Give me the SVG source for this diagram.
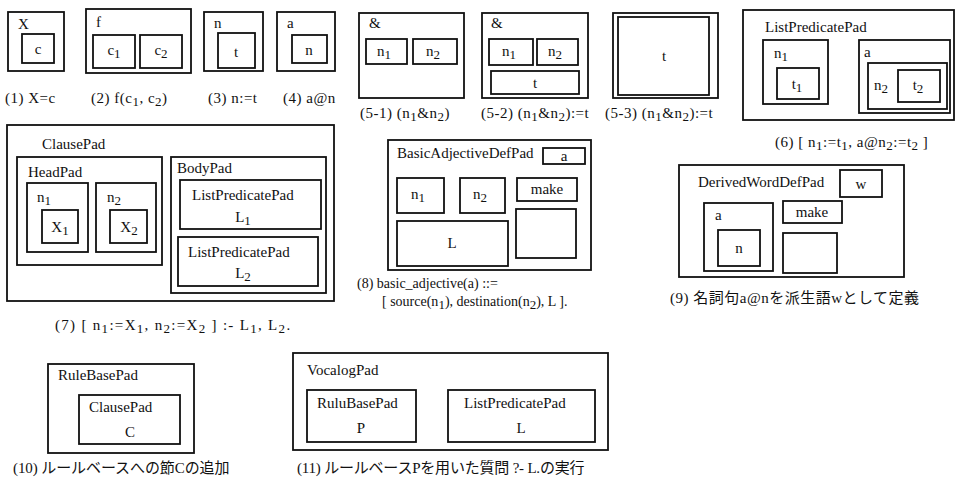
<svg xmlns="http://www.w3.org/2000/svg" width="959" height="483" viewBox="0 0 959 483">
<style>
.b{fill:none;stroke:#111;stroke-width:1.8}
text{font-family:"Liberation Serif",serif;font-size:15px;fill:#111}
.j{font-family:"Liberation Serif","Noto Sans CJK JP",serif}
.c{font-size:15px;letter-spacing:0.5px}
.c8{font-size:14px;letter-spacing:0}
.m{text-anchor:middle}
.s{font-size:13px}
</style>
<rect width="959" height="483" fill="#fff"/>
<g id="connectors"/>
<g id="d1">
<rect class="b" x="8" y="12" width="56" height="59"/>
<text x="18" y="29">X</text>
<g id="d1-c"><rect class="b" x="22" y="34" width="32" height="29"/><text class="m" x="38" y="54">c</text></g>
<text class="c" x="5" y="103">(1)  X=c</text>
</g>
<g id="d2">
<rect class="b" x="86" y="9" width="105" height="64"/>
<text x="96" y="27">f</text>
<g id="d2-c1"><rect class="b" x="93" y="35" width="42" height="33"/><text class="m" x="114" y="55">c<tspan class="s" dy="3">1</tspan></text></g>
<g id="d2-c2"><rect class="b" x="140" y="35" width="42" height="33"/><text class="m" x="161" y="55">c<tspan class="s" dy="3">2</tspan></text></g>
<text class="c" x="91" y="103">(2)  f(c<tspan class="s" dy="3">1</tspan><tspan dy="-3">, c</tspan><tspan class="s" dy="3">2</tspan><tspan dy="-3">)</tspan></text>
</g>
<g id="d3">
<rect class="b" x="204" y="12" width="59" height="59"/>
<text x="214" y="28">n</text>
<g id="d3-t"><rect class="b" x="218" y="33" width="37" height="35"/><text class="m" x="236" y="57">t</text></g>
<text class="c" x="208" y="103">(3)  n:=t</text>
</g>
<g id="d4">
<rect class="b" x="277" y="12" width="58" height="59"/>
<text x="287" y="28">a</text>
<g id="d4-n"><rect class="b" x="292" y="35" width="35" height="28"/><text class="m" x="309" y="55">n</text></g>
<text class="c" x="283" y="103">(4)  a@n</text>
</g>
<g id="d5-1">
<rect class="b" x="359" y="13" width="105" height="85"/>
<text x="369" y="28">&amp;</text>
<g id="d5-1-n1"><rect class="b" x="366" y="39" width="41" height="25"/><text class="m" x="384" y="56">n<tspan class="s" dy="3">1</tspan></text></g>
<g id="d5-1-n2"><rect class="b" x="413" y="39" width="44" height="25"/><text class="m" x="433" y="56">n<tspan class="s" dy="3">2</tspan></text></g>
<text class="c" x="360" y="118">(5-1)  (n<tspan class="s" dy="3">1</tspan><tspan dy="-3">&amp;n</tspan><tspan class="s" dy="3">2</tspan><tspan dy="-3">)</tspan></text>
</g>
<g id="d5-2">
<rect class="b" x="482" y="13" width="106" height="85"/>
<text x="491" y="28">&amp;</text>
<g id="d5-2-n1"><rect class="b" x="489" y="39" width="44" height="26"/><text class="m" x="509" y="56">n<tspan class="s" dy="3">1</tspan></text></g>
<g id="d5-2-n2"><rect class="b" x="537" y="39" width="41" height="26"/><text class="m" x="555" y="56">n<tspan class="s" dy="3">2</tspan></text></g>
<g id="d5-2-t"><rect class="b" x="491" y="71" width="88" height="23"/><text class="m" x="535" y="88">t</text></g>
<text class="c" x="481" y="118">(5-2)  (n<tspan class="s" dy="3">1</tspan><tspan dy="-3">&amp;n</tspan><tspan class="s" dy="3">2</tspan><tspan dy="-3">):=t</tspan></text>
</g>
<g id="d5-3">
<rect class="b" x="613" y="13" width="105" height="85"/>
<g id="d5-3-t"><rect class="b" x="618" y="17" width="91" height="78"/><text class="m" x="664" y="61">t</text></g>
<text class="c" x="605" y="118">(5-3)  (n<tspan class="s" dy="3">1</tspan><tspan dy="-3">&amp;n</tspan><tspan class="s" dy="3">2</tspan><tspan dy="-3">):=t</tspan></text>
</g>
<g id="d6">
<rect class="b" x="743" y="10" width="211" height="110"/>
<text x="765" y="32">ListPredicatePad</text>
<g id="d6-n1"><rect class="b" x="763" y="40" width="65" height="64"/><text x="774" y="58">n<tspan class="s" dy="3">1</tspan></text>
<g id="d6-t1"><rect class="b" x="777" y="68" width="42" height="31"/><text class="m" x="797" y="89">t<tspan class="s" dy="3">1</tspan></text></g></g>
<g id="d6-a"><rect class="b" x="859" y="40" width="91" height="73"/><text x="864" y="57">a</text>
<g id="d6-n2"><rect class="b" x="868" y="63" width="79" height="46"/><text x="874" y="90">n<tspan class="s" dy="3">2</tspan></text>
<g id="d6-t2"><rect class="b" x="898" y="70" width="42" height="32"/><text class="m" x="918" y="90">t<tspan class="s" dy="3">2</tspan></text></g></g></g>
<text class="c" x="775" y="147">(6)  [ n<tspan class="s" dy="3">1</tspan><tspan dy="-3">:=t</tspan><tspan class="s" dy="3">1</tspan><tspan dy="-3">, a@n</tspan><tspan class="s" dy="3">2</tspan><tspan dy="-3">:=t</tspan><tspan class="s" dy="3">2</tspan><tspan dy="-3"> ]</tspan></text>
</g>
<g id="d7">
<rect class="b" x="7" y="125" width="327" height="176"/>
<text x="42" y="149">ClausePad</text>
<g id="d7-head"><rect class="b" x="17" y="157" width="145" height="108"/><text x="28" y="177">HeadPad</text>
<g id="d7-n1"><rect class="b" x="27" y="183" width="61" height="69"/><text x="37" y="202">n<tspan class="s" dy="3">1</tspan></text>
<g id="d7-x1"><rect class="b" x="42" y="210" width="36" height="33"/><text class="m" x="60" y="232">X<tspan class="s" dy="3">1</tspan></text></g></g>
<g id="d7-n2"><rect class="b" x="96" y="183" width="60" height="69"/><text x="107" y="202">n<tspan class="s" dy="3">2</tspan></text>
<g id="d7-x2"><rect class="b" x="110" y="210" width="37" height="33"/><text class="m" x="129" y="232">X<tspan class="s" dy="3">2</tspan></text></g></g></g>
<g id="d7-body"><rect class="b" x="171" y="157" width="155" height="136"/><text x="177" y="173">BodyPad</text>
<g id="d7-l1"><rect class="b" x="180" y="180" width="141" height="49"/><text x="192" y="200">ListPredicatePad</text><text class="m" x="243" y="222">L<tspan class="s" dy="3">1</tspan></text></g>
<g id="d7-l2"><rect class="b" x="178" y="237" width="140" height="49"/><text x="188" y="257">ListPredicatePad</text><text class="m" x="243" y="278">L<tspan class="s" dy="3">2</tspan></text></g></g>
<text class="c" x="55" y="330" style="letter-spacing:1.3px">(7)  [ n<tspan class="s" dy="3">1</tspan><tspan dy="-3">:=X</tspan><tspan class="s" dy="3">1</tspan><tspan dy="-3">, n</tspan><tspan class="s" dy="3">2</tspan><tspan dy="-3">:=X</tspan><tspan class="s" dy="3">2</tspan><tspan dy="-3"> ] :- L</tspan><tspan class="s" dy="3">1</tspan><tspan dy="-3">, L</tspan><tspan class="s" dy="3">2</tspan><tspan dy="-3">.</tspan></text>
</g>
<g id="d8">
<rect class="b" x="388" y="140" width="203" height="130"/>
<text x="397" y="158">BasicAdjectiveDefPad</text>
<g id="d8-a"><rect class="b" x="543" y="148" width="42" height="16"/><text class="m" x="564" y="161">a</text></g>
<g id="d8-n1"><rect class="b" x="397" y="178" width="47" height="35"/><text class="m" x="418" y="199">n<tspan class="s" dy="3">1</tspan></text></g>
<g id="d8-n2"><rect class="b" x="460" y="178" width="45" height="35"/><text class="m" x="480" y="199">n<tspan class="s" dy="3">2</tspan></text></g>
<g id="d8-make"><rect class="b" x="517" y="178" width="60" height="23"/><text class="m" x="547" y="194">make</text></g>
<g id="d8-empty"><rect class="b" x="516" y="209" width="60" height="49"/></g>
<g id="d8-l"><rect class="b" x="397" y="221" width="111" height="45"/><text class="m" x="452" y="248">L</text></g>
<text class="c8" x="357" y="288">(8)  basic_adjective(a) ::=</text>
<text class="c8" x="382" y="306">[ source(n<tspan class="s" dy="3">1</tspan><tspan dy="-3">), destination(n</tspan><tspan class="s" dy="3">2</tspan><tspan dy="-3">), L ].</tspan></text>
</g>
<g id="d9">
<rect class="b" x="679" y="165" width="225" height="112"/>
<text x="698" y="187">DerivedWordDefPad</text>
<g id="d9-w"><rect class="b" x="840" y="170" width="42" height="27"/><text class="m" x="861" y="189">w</text></g>
<g id="d9-a"><rect class="b" x="704" y="203" width="69" height="68"/><text x="715" y="220">a</text>
<g id="d9-n"><rect class="b" x="718" y="230" width="42" height="36"/><text class="m" x="739" y="253">n</text></g></g>
<g id="d9-make"><rect class="b" x="783" y="201" width="59" height="22"/><text class="m" x="812" y="217">make</text></g>
<g id="d9-empty"><rect class="b" x="783" y="233" width="54" height="40"/></g>
<text class="c j" x="670" y="303">(9)  名詞句a@nを派生語wとして定義</text>
</g>
<g id="d10">
<rect class="b" x="48" y="364" width="146" height="89"/>
<text x="58" y="380">RuleBasePad</text>
<g id="d10-clause"><rect class="b" x="79" y="395" width="101" height="49"/><text x="89" y="412">ClausePad</text><text class="m" x="130" y="437">C</text></g>
<text class="c j" x="13" y="473" textLength="217">(10)  ルールベースへの節Cの追加</text>
</g>
<g id="d11">
<rect class="b" x="293" y="353" width="315" height="97"/>
<text x="307" y="375">VocalogPad</text>
<g id="d11-rb"><rect class="b" x="307" y="390" width="109" height="52"/><text x="317" y="408">RuluBasePad</text><text class="m" x="361" y="433">P</text></g>
<g id="d11-lp"><rect class="b" x="448" y="390" width="147" height="52"/><text x="464" y="408">ListPredicatePad</text><text class="m" x="521" y="433">L</text></g>
<text class="c j" x="297" y="473" textLength="288">(11)  ルールベースPを用いた質問 ?- L.の実行</text>
</g>
</svg>
